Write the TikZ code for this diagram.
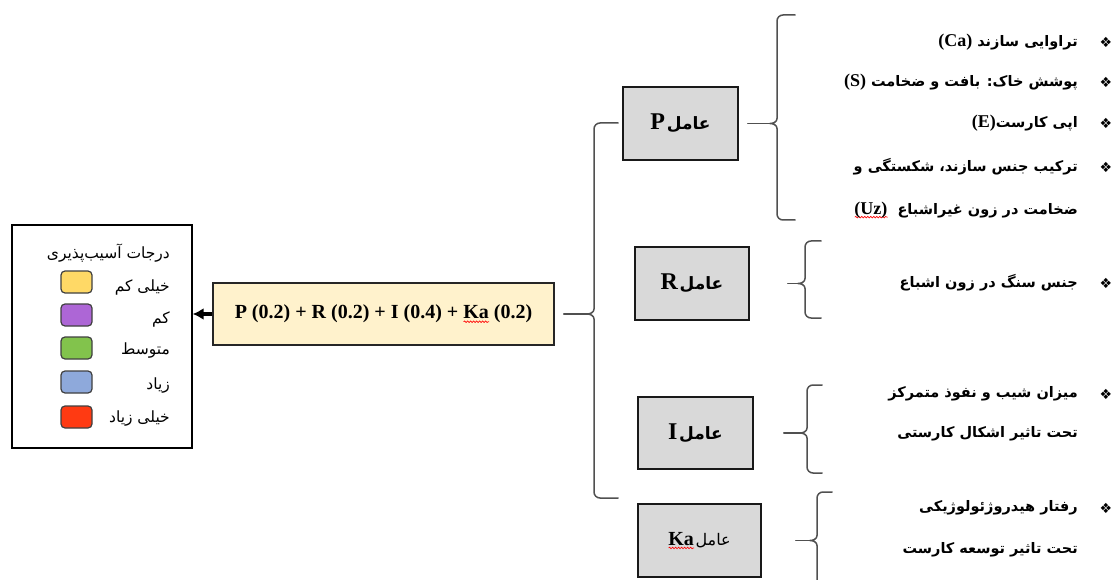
\documentclass[tikz,border=0pt]{standalone}
\usepackage{fontspec}
\setmainfont{Liberation Serif}
\newfontfamily\fa[Script=Arabic]{DejaVu Sans}
\newfontfamily\dejavu{DejaVu Sans}
\TeXXeTstate=1
\usetikzlibrary{arrows.meta,decorations.pathmorphing}
\newcommand\RL[1]{{\fa\beginR#1\endR}}
\newcommand\lat[1]{{\rmfamily\bfseries #1}}
\newdimen\rwlen
\newcommand\redwave[1]{\setbox0\hbox{#1}\rwlen=\wd0\rlap{\raisebox{-4pt}{\tikz[x=1pt,y=1pt]{\draw[red,line width=0.6pt,decorate,decoration={snake,amplitude=0.8pt,segment length=3pt}] (0,0) -- (\rwlen,0);}}}\box0{}}
\definecolor{swY}{HTML}{FFD966}
\definecolor{swP}{HTML}{AD66D6}
\definecolor{swG}{HTML}{82C34C}
\definecolor{swB}{HTML}{8EA9DB}
\definecolor{swR}{HTML}{FF3A12}
\definecolor{formfill}{HTML}{FFF2CC}
\definecolor{boxgray}{HTML}{D9D9D9}
\definecolor{bracegray}{HTML}{505050}
\tikzset{
  legendbox/.style={draw=black, line width=1.3pt, inner sep=0},
  swatch/.style={draw=black!75, line width=1.2pt, rounded corners=4pt, minimum width=31pt, minimum height=22pt, inner sep=0},
  lgtext/.style={anchor=east, inner sep=0, font=\fa\fontsize{15.5}{18}\selectfont},
  formbox/.style={draw=black!85, line width=1.6pt, fill=formfill, inner sep=0, font=\bfseries\fontsize{20}{24}\selectfont},
  factorbox/.style={draw=black!90, line width=1.6pt, fill=boxgray, inner sep=0},
  bracel/.style={draw=bracegray, line width=1.5pt, line join=round, line cap=round},
  itemtext/.style={anchor=east, inner sep=0, font=\fa\bfseries\fontsize{14.5}{18}\selectfont},
  bul/.style={inner sep=0, font=\dejavu\fontsize{14}{16}\selectfont},
}
\newcommand\mybrace[6]{%
  \coordinate (#1) at (#2-7,#4);
  \draw[bracel] (#6,#3) -- (#2+6,#3) to[out=180,in=90] (#2,#3+6) -- (#2,#4-5)
     to[out=-90,in=0] (#1) to[out=0,in=90] (#2,#4+5) -- (#2,#5-6)
     to[out=-90,in=180] (#2+6,#5) -- (#6,#5);
}
\begin{document}
\begin{tikzpicture}[x=1pt,y=-1pt]
\useasboundingbox (0,0) rectangle (1119,580);
\clip (0,0) rectangle (1119,580);
% legend
\node[legendbox, minimum width=180pt, minimum height=223pt] (L) at (102,336.5) {};
\node[lgtext] (lt) at (170,253) {\RL{درجات آسیب‌پذیری}};
\node[swatch, fill=swY] (s1) at (76.5,282) {};
\node[swatch, fill=swP] (s2) at (76.5,315) {};
\node[swatch, fill=swG] (s3) at (76.5,348) {};
\node[swatch, fill=swB] (s4) at (76.5,382) {};
\node[swatch, fill=swR] (s5) at (76.5,417) {};
\node[lgtext] (l1) at (170,287) {\RL{خیلی کم}};
\node[lgtext] (l2) at (170,319) {\RL{کم}};
\node[lgtext] (l3) at (170,351) {\RL{متوسط}};
\node[lgtext] (l4) at (170,386) {\RL{زیاد}};
\node[lgtext] (l5) at (170,419) {\RL{خیلی زیاد}};
% formula
\node[formbox, minimum width=341pt, minimum height=62pt] (F) at (383.5,314)
  {P (0.2) + R (0.2) + I (0.4) + \redwave{Ka} (0.2)};
\draw[-{Latex[length=11pt,width=12pt]}, line width=3.5pt] (F.west) -- (F.west -| L.east);
% big brace
\mybrace{cB}{594}{123}{314}{498}{618}
\draw[bracel] ([xshift=9pt]F.east) -- (cB);
% factor boxes
\node[factorbox, minimum width=115pt, minimum height=73pt] (P) at (680.5,123.5)
  {\lat{\fontsize{24}{28}\selectfont P}\,\RL{\bfseries\fontsize{17}{20}\selectfont عامل}};
\node[factorbox, minimum width=114pt, minimum height=73pt] (R) at (692,283.5)
  {\lat{\fontsize{24}{28}\selectfont R}\,\RL{\bfseries\fontsize{17}{20}\selectfont عامل}};
\node[factorbox, minimum width=115pt, minimum height=72pt] (I) at (695.5,433)
  {\lat{\fontsize{24}{28}\selectfont I}\,\RL{\bfseries\fontsize{17}{20}\selectfont عامل}};
\node[factorbox, minimum width=123pt, minimum height=73pt] (K) at (699.5,540.5)
  {\lat{\fontsize{20}{24}\selectfont\redwave{Ka}}\,\RL{\fontsize{16}{19}\selectfont عامل}};
% braces of factors
\mybrace{cP}{777}{15}{123.5}{220}{795}
\draw[bracel] ([xshift=9pt]P.east) -- (cP);
\mybrace{cR}{805}{241}{283.5}{318}{821}
\draw[bracel] ([xshift=38pt]R.east) -- (cR);
\mybrace{cI}{807}{385}{433}{473}{822}
\draw[bracel] ([xshift=30pt]I.east) -- (cI);
\mybrace{cK}{817}{492}{540.5}{600}{832}
\draw[bracel] ([xshift=34pt]K.east) -- (cK);
% items P
\node[bul] (bp1) at (1106,42) {❖};
\node[bul] (bp2) at (1106,82) {❖};
\node[bul] (bp3) at (1106,123) {❖};
\node[bul] (bp4) at (1106,167) {❖};
\node[itemtext] (tp1) at (1078,42) {\lat{\fontsize{18}{21}\selectfont (Ca)} \RL{تراوایی سازند}};
\node[itemtext] (tp2) at (1078,82) {\lat{\fontsize{18}{21}\selectfont (S)} \RL{پوشش خاک: بافت و ضخامت}};
\node[itemtext] (tp3) at (1078,123) {\lat{\fontsize{18}{21}\selectfont (E)}\RL{اپی کارست}};
\node[itemtext] (tp4) at (1078,167) {\RL{ترکیب جنس سازند، شکستگی و}};
\node[itemtext] (tp5) at (1078,210) {\lat{\fontsize{18}{21}\selectfont \redwave{(Uz)}}\ \ \RL{ضخامت در زون غیراشباع}};
% items R
\node[bul] (br1) at (1106,283) {❖};
\node[itemtext] (tr1) at (1078,283) {\RL{جنس سنگ در زون اشباع}};
% items I
\node[bul] (bi1) at (1106,394) {❖};
\node[itemtext] (ti1) at (1078,394) {\RL{میزان شیب و نفوذ متمرکز}};
\node[itemtext] (ti2) at (1078,434) {\RL{تحت تاثیر اشکال کارستی}};
% items Ka
\node[bul] (bk1) at (1106,508) {❖};
\node[itemtext] (tk1) at (1078,508) {\RL{رفتار هیدروژئولوژیکی}};
\node[itemtext] (tk2) at (1078,550) {\RL{تحت تاثیر توسعه کارست}};
\end{tikzpicture}
\end{document}
